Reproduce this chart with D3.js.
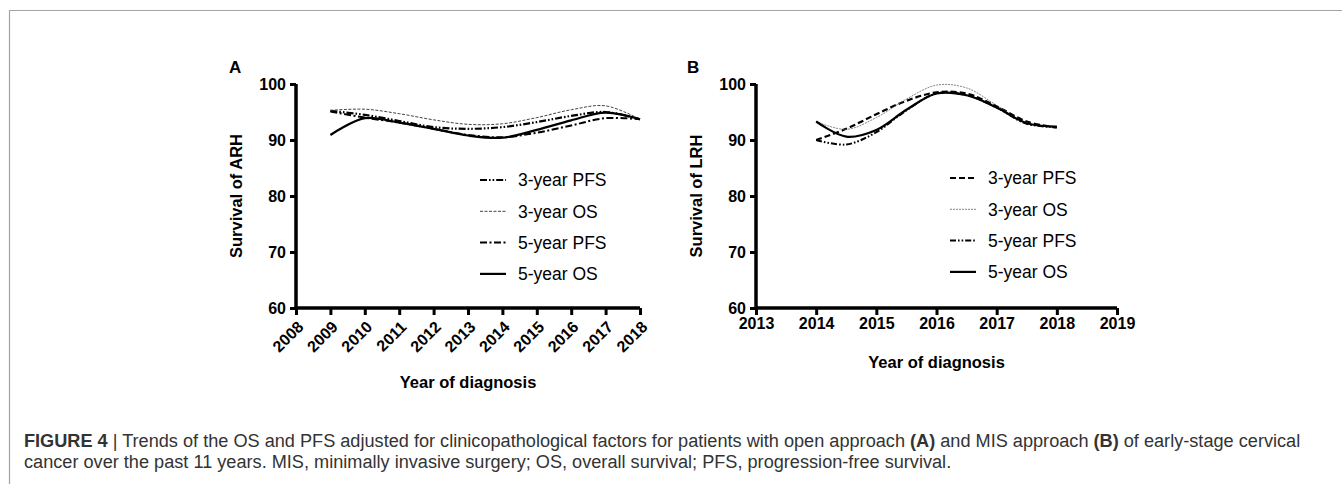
<!DOCTYPE html>
<html>
<head>
<meta charset="utf-8">
<script src="https://cdn.jsdelivr.net/npm/d3@7"></script>
<style>
  html, body { margin: 0; padding: 0; background: #fff; }
  svg { display: block; font-family: "Liberation Sans", Arial, sans-serif; }
</style>
</head>
<body>
<div id="chart"></div>
<script>
// ---- data ----
const yearsA = [2009, 2010, 2011, 2012, 2013, 2014, 2015, 2016, 2017, 2018];
const pfs3A = [95.2, 94.5, 93.4, 92.3, 92.0, 92.3, 93.2, 94.3, 95.0, 93.7];
const os3A  = [95.3, 95.5, 94.7, 93.6, 92.8, 92.9, 94.0, 95.4, 96.1, 93.7];
const pfs5A = [95.1, 94.0, 93.1, 92.0, 90.9, 90.5, 91.3, 92.6, 93.9, 93.7];
const os5A  = [90.9, 93.9, 93.1, 92.0, 90.8, 90.4, 91.8, 93.5, 94.9, 93.7];

const yearsB = [2014, 2014.5, 2015, 2015.5, 2016, 2016.5, 2017, 2017.5, 2018];
const pfs3B = [90.0, 92.0, 94.6, 97.0, 98.5, 98.3, 96.0, 93.3, 92.2];
const os3B  = [93.3, 91.9, 94.0, 97.3, 99.8, 99.3, 96.2, 93.0, 92.3];
const pfs5B = [90.0, 89.2, 91.4, 95.3, 98.3, 98.0, 95.8, 92.9, 92.3];
const os5B  = [93.3, 90.6, 91.8, 95.4, 98.3, 98.0, 95.8, 93.0, 92.4];

const yTicks = [60, 70, 80, 90, 100];
const xTicksA = d3.range(2008, 2019);
const xTicksB = d3.range(2013, 2020);
const seriesNames = ["3-year PFS", "3-year OS", "5-year PFS", "5-year OS"];

const captionLine1 = [
  {t: "FIGURE 4", b: true}, {t: " | Trends of the OS and PFS adjusted for clinicopathological factors for patients with open approach "},
  {t: "(A)", b: true}, {t: " and MIS approach "}, {t: "(B)", b: true}, {t: " of early-stage cervical"}
];
const captionLine2 = "cancer over the past 11 years. MIS, minimally invasive surgery; OS, overall survival; PFS, progression-free survival.";

// line styles per panel, same order as seriesNames
const stylesA = [
  {w: 2.2, dash: "7,2,1.6,2,1.6,2", c: "#000"},
  {w: 1.0, dash: "3,1.5", c: "#444"},
  {w: 2.0, dash: "7,2.5,2,2.5", c: "#000"},
  {w: 2.2, dash: null, c: "#000"}
];
const stylesB = [
  {w: 2.2, dash: "6,3", c: "#000"},
  {w: 0.8, dash: "2,1", c: "#666"},
  {w: 2.0, dash: "6,2,1.6,2,1.6,2", c: "#000"},
  {w: 2.2, dash: null, c: "#000"}
];

const W = 1342, H = 484;
const svg = d3.select("#chart").append("svg").attr("width", W).attr("height", H);

// frame
svg.append("path").attr("d", `M9.5,${H} V10.5 H${W}`)
  .attr("fill", "none").attr("stroke", "#a3a3a3").attr("stroke-width", 1.2);

function panel(opts) {
  const g = svg.append("g");
  const x = d3.scaleLinear().domain(opts.xDomain).range([opts.x0, opts.x1]);
  const y = d3.scaleLinear().domain([60, 100]).range([308, 84]);

  const yAxis = g.append("g").attr("transform", `translate(${opts.x0},0)`)
    .call(d3.axisLeft(y).tickValues(yTicks).tickSize(6).tickPadding(4));
  const xAxis = g.append("g").attr("transform", `translate(0,308)`)
    .call(d3.axisBottom(x).tickValues(opts.xTicks).tickSize(7).tickFormat(d3.format("d")));

  [yAxis, xAxis].forEach(a => {
    a.select(".domain").attr("stroke", "#000").attr("stroke-width", 3.5)
      .attr("d", a === yAxis ? `M0,${y(100)}V${y(60)}` : `M${opts.x0},0H${opts.x1}`);
    a.selectAll(".tick line").attr("stroke", "#000").attr("stroke-width", 3);
    a.selectAll(".tick text").attr("fill", "#000").attr("font-weight", "bold")
      .attr("font-size", 16).attr("font-family", "Liberation Sans, Arial, sans-serif");
  });
  yAxis.selectAll(".tick text").attr("dy", "0.36em");

  if (opts.rotate) {
    xAxis.selectAll(".tick text")
      .attr("text-anchor", "end").attr("y", 0).attr("dy", "0.35em")
      .attr("transform", "translate(4,16) rotate(-45)");
  } else {
    xAxis.selectAll(".tick text").attr("y", 10).attr("dy", "0.71em");
  }

  // curves
  const line = d3.line().curve(d3.curveCatmullRom.alpha(0.5))
    .x(d => x(d[0])).y(d => y(d[1]));
  opts.series.forEach((vals, i) => {
    const st = opts.styles[i];
    g.append("path").datum(opts.years.map((yr, k) => [yr, vals[k]]))
      .attr("d", line).attr("fill", "none")
      .attr("stroke", st.c).attr("stroke-width", st.w)
      .attr("stroke-dasharray", st.dash);
  });

  // legend
  seriesNames.forEach((name, i) => {
    const st = opts.styles[i];
    const ly = opts.legY + i * 31.3;
    g.append("line").attr("x1", opts.legX).attr("x2", opts.legX + 26)
      .attr("y1", ly).attr("y2", ly)
      .attr("stroke", st.c).attr("stroke-width", st.w).attr("stroke-dasharray", st.dash);
    g.append("text").attr("x", opts.legX + 38).attr("y", ly).attr("dy", "0.36em")
      .attr("font-size", 17.5).attr("fill", "#000").text(name);
  });

  // titles
  g.append("text").attr("transform", `translate(${opts.yTitleX},196) rotate(-90)`)
    .attr("text-anchor", "middle").attr("font-weight", "bold").attr("font-size", 16.5)
    .text(opts.yTitle);
  g.append("text").attr("x", (opts.x0 + opts.x1) / 2).attr("y", opts.xTitleY)
    .attr("text-anchor", "middle").attr("font-weight", "bold").attr("font-size", 16.5)
    .text("Year of diagnosis");
  g.append("text").attr("x", opts.labX).attr("y", 73)
    .attr("font-weight", "bold").attr("font-size", 17).text(opts.label);
}

panel({
  x0: 296, x1: 640, xDomain: [2008, 2018], xTicks: xTicksA, rotate: true,
  years: yearsA, series: [pfs3A, os3A, pfs5A, os5A], styles: stylesA,
  legX: 480, legY: 180, yTitleX: 242, yTitle: "Survival of ARH", xTitleY: 388,
  labX: 229, label: "A"
});
panel({
  x0: 756, x1: 1117, xDomain: [2013, 2019], xTicks: xTicksB, rotate: false,
  years: yearsB, series: [pfs3B, os3B, pfs5B, os5B], styles: stylesB,
  legX: 950, legY: 178, yTitleX: 702, yTitle: "Survival of LRH", xTitleY: 368,
  labX: 687, label: "B"
});

// caption
const cap = svg.append("g").attr("font-family", "Liberation Sans, Arial, sans-serif")
  .attr("font-size", 15).attr("fill", "#333");
const t1 = cap.append("text").attr("x", 24).attr("y", 447);
captionLine1.forEach(p => t1.append("tspan").attr("font-weight", p.b ? "bold" : null).text(p.t));
cap.append("text").attr("x", 24).attr("y", 468).text(captionLine2);
// fit first line to the width seen in the figure
const len = t1.node().getComputedTextLength();
const fs = 15 * 1277 / len;
cap.attr("font-size", fs);
</script>
</body>
</html>
